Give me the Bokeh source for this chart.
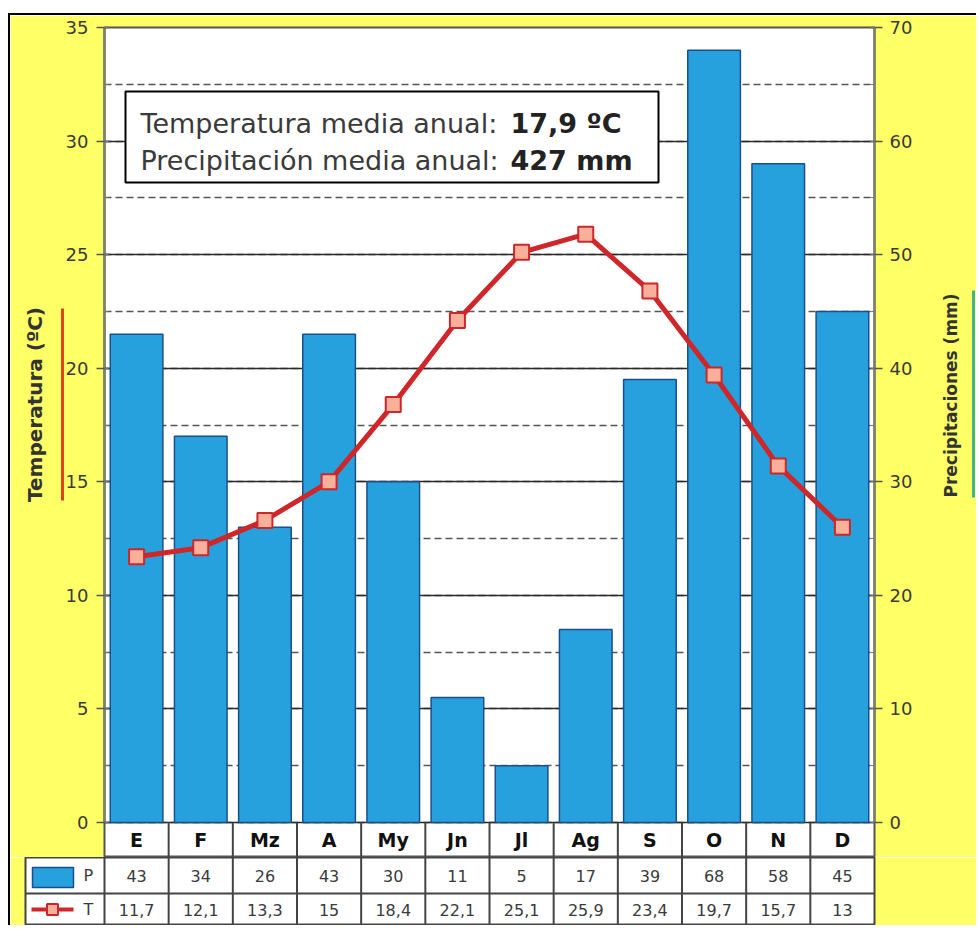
import math
from bokeh.plotting import figure
from bokeh.layouts import column
from bokeh.models import (Range1d, LinearAxis, SingleIntervalTicker, FixedTicker,
                          Grid, ColumnDataSource)
from bokeh.core.properties import value
from bokeh.embed import file_html
from bokeh.resources import INLINE

# ---------------- data ----------------
months = ["E", "F", "Mz", "A", "My", "Jn", "Jl", "Ag", "S", "O", "N", "D"]
precip = [43, 34, 26, 43, 30, 11, 5, 17, 39, 68, 58, 45]
temp = [11.7, 12.1, 13.3, 15, 18.4, 22.1, 25.1, 25.9, 23.4, 19.7, 15.7, 13]
temp_axis_max = 35
precip_axis_max = 70
summary_labels = ["Temperatura media anual:", "Precipitación media anual:"]
summary_values = ["17,9 ºC", "427 mm"]
row_names = ["P", "T"]
temp_title = "Temperatura (ºC)"
precip_title = "Precipitaciones (mm)"

# ---------------- layout constants (page pixels) ----------------
FONT = "DejaVu Sans"
YELLOW = "#FFFF66"
PAGE_X0, PAGE_Y0 = 10, 15
W = 966
FR_L, FR_R = 104, 874
FR_T, ZERO_Y, FR_B = 27, 822, 857
TB_L, TB_MID, TB_B = 25, 893, 925

COL = (FR_R - FR_L) / len(months)
PX_T = (ZERO_Y - FR_T) / temp_axis_max
PX_P = (ZERO_Y - FR_T) / precip_axis_max
ROW_T = TB_B - TB_MID
ymin_t = -(FR_B - ZERO_Y) / PX_T
ymin_p = -(FR_B - ZERO_Y) / PX_P


def dx(px):
    return (px - FR_L) / COL


def dy(py):
    return (ZERO_Y - py) / PX_T


def ty(py):
    return (TB_B - py) / ROW_T


def fmt(v):
    return f"{v:g}".replace(".", ",")


xs = [i + 0.5 for i in range(len(months))]
src = ColumnDataSource(dict(x=xs, month=months, precip=precip, temp=temp,
                            ptxt=[fmt(v) for v in precip], ttxt=[fmt(v) for v in temp]))

BAR_FILL = "#27A1DD"
BAR_LINE = "#1B4E8A"
RED = "#CE2629"
MARK_FILL = "#F9B09A"


def no_align(fig):
    try:
        fig.frame_align = False
    except Exception:
        pass


# ---------------- main chart ----------------
p = figure(width=W, height=FR_B - PAGE_Y0,
           x_range=Range1d(0, len(months)), y_range=Range1d(ymin_t, temp_axis_max),
           x_axis_type=None, y_axis_type=None,
           output_backend="svg", toolbar_location=None,
           min_border_left=FR_L - PAGE_X0, min_border_right=W - (FR_R - PAGE_X0),
           min_border_top=FR_T - PAGE_Y0, min_border_bottom=0,
           background_fill_color="white", border_fill_color=YELLOW,
           outline_line_color="#555555", outline_line_width=2)
no_align(p)
# precipitation scale and a page-pixel scale (for placing the axis titles)
p.extra_y_ranges = {"pp": Range1d(ymin_p, precip_axis_max),
                    "px": Range1d(-FR_B, -FR_T)}

tick_t = SingleIntervalTicker(interval=5, num_minor_ticks=2)
tick_p = SingleIntervalTicker(interval=10, num_minor_ticks=2)


def style_axis(ax, size="18px"):
    ax.axis_line_color = "#80806E"
    ax.axis_line_width = 2.5
    ax.major_tick_line_color = "#555555"
    ax.major_tick_line_width = 1.5
    ax.minor_tick_line_color = "#777777"
    ax.major_tick_out = 8
    ax.major_tick_in = 4
    ax.minor_tick_out = 0
    ax.minor_tick_in = 4
    ax.major_label_text_font = FONT
    ax.major_label_text_font_size = size
    ax.major_label_text_color = "#3a3a3a"


def bare(ax):
    ax.major_tick_out = 0
    ax.major_tick_in = 0
    ax.minor_tick_out = 0
    ax.minor_tick_in = 0
    ax.major_tick_line_color = None
    ax.minor_tick_line_color = None


ax_l = LinearAxis(ticker=tick_t, bounds=(0, temp_axis_max), major_label_standoff=8)
style_axis(ax_l)
p.add_layout(ax_l, "left")

T_MID = -404
red_ax = LinearAxis(y_range_name="px", ticker=FixedTicker(ticks=[T_MID]),
                    bounds=(-500, -308), axis_line_color="#E0461E", axis_line_width=3,
                    major_label_overrides={T_MID: temp_title},
                    major_label_orientation="vertical", major_label_standoff=16,
                    major_label_text_font=FONT, major_label_text_font_size="20px",
                    major_label_text_font_style="bold", major_label_text_color="#333333")
bare(red_ax)
p.add_layout(red_ax, "left")

ax_r = LinearAxis(y_range_name="pp", ticker=tick_p, bounds=(0, precip_axis_max),
                  major_label_standoff=7)
style_axis(ax_r)
p.add_layout(ax_r, "right")

P_END = -497
lab_ax = LinearAxis(y_range_name="px", ticker=FixedTicker(ticks=[P_END]),
                    bounds=(-497, -290), axis_line_color=None,
                    major_label_overrides={P_END: precip_title},
                    major_label_orientation=math.pi / 2, major_label_standoff=35,
                    major_label_text_font=FONT, major_label_text_font_size="17px",
                    major_label_text_font_style="bold", major_label_text_color="#333333")
bare(lab_ax)
p.add_layout(lab_ax, "right")

teal_ax = LinearAxis(y_range_name="px", ticker=FixedTicker(ticks=[]),
                     bounds=(-497, -290), axis_line_color="#40B0A0", axis_line_width=3)
bare(teal_ax)
p.add_layout(teal_ax, "right")

grid = Grid(dimension=1, ticker=tick_t, bounds=(0, temp_axis_max),
            grid_line_color="#2a2a2a", grid_line_width=1.5,
            minor_grid_line_color="#555555", minor_grid_line_dash="7 4",
            minor_grid_line_width=1.5)
p.add_layout(grid)

# bars (precipitation)
p.vbar(x="x", top="precip", bottom=0, width=0.82, source=src, y_range_name="pp",
       fill_color=BAR_FILL, line_color=BAR_LINE, line_width=1.5)

# month row separators and labels
seps = list(range(1, len(months)))
p.segment(x0=seps, x1=seps, y0=[0] * len(seps), y1=[ymin_t] * len(seps),
          line_color="#444444", line_width=2)
p.text(x="x", y=ymin_t / 2, text="month", source=src, text_font=value(FONT),
       text_font_size="19px", text_font_style="bold", text_color="#111111",
       text_align="center", text_baseline="middle")

# summary box
p.quad(left=[dx(125)], right=[dx(658)], top=[dy(91)], bottom=[dy(182)],
       fill_color="white", line_color="black", line_width=2)
p.text(x=[dx(140)] * 2, y=[dy(123), dy(160)], text=summary_labels,
       text_font=value(FONT), text_font_size="27px", text_color="#3a3a3a",
       text_align="left", text_baseline="alphabetic")
p.text(x=[dx(510)] * 2, y=[dy(123), dy(160)], text=summary_values,
       text_font=value(FONT), text_font_size="27px", text_font_style="bold",
       text_color="#222222", text_align="left", text_baseline="alphabetic")

# temperature line
p.line(x="x", y="temp", source=src, line_color=RED, line_width=5)
p.scatter(x="x", y="temp", source=src, marker="square", size=15,
          fill_color=MARK_FILL, line_color=RED, line_width=2)

# ---------------- data table ----------------
LEG_W = (FR_L - TB_L) / COL
t = figure(width=W, height=TB_B - FR_B,
           x_range=Range1d(-LEG_W, len(months)), y_range=Range1d(0, ty(FR_B)),
           x_axis_type=None, y_axis_type=None,
           output_backend="svg", toolbar_location=None,
           min_border_left=TB_L - PAGE_X0, min_border_right=W - (FR_R - PAGE_X0),
           min_border_top=0, min_border_bottom=0,
           background_fill_color="white", border_fill_color=YELLOW,
           outline_line_color="#444444", outline_line_width=2)
no_align(t)

vs = list(range(0, len(months)))
t.segment(x0=vs, x1=vs, y0=[0] * len(vs), y1=[ty(FR_B)] * len(vs),
          line_color="#444444", line_width=2)
t.segment(x0=[-LEG_W], x1=[len(months)], y0=[1], y1=[1],
          line_color="#444444", line_width=2)

yP = ty((FR_B + TB_MID) / 2)
yT = ty((TB_MID + TB_B) / 2)
t.text(x="x", y=yP, text="ptxt", source=src, text_font=value(FONT),
       text_font_size="16px", text_color="#3a3a3a",
       text_align="center", text_baseline="middle")
t.text(x="x", y=yT, text="ttxt", source=src, text_font=value(FONT),
       text_font_size="16px", text_color="#3a3a3a",
       text_align="center", text_baseline="middle")

# legend column
t.quad(left=[dx(32)], right=[dx(73)], top=[ty(867)], bottom=[ty(887)],
       fill_color=BAR_FILL, line_color=BAR_LINE, line_width=1.5)
t.segment(x0=[dx(31)], x1=[dx(73)], y0=[yT], y1=[yT], line_color=RED, line_width=4)
t.scatter(x=[dx(52)], y=[yT], marker="square", size=11,
          fill_color=MARK_FILL, line_color=RED, line_width=2)
t.text(x=[dx(83)] * 2, y=[yP, yT], text=row_names, text_font=value(FONT),
       text_font_size="16px", text_color="#3a3a3a",
       text_align="left", text_baseline="middle")

layout = column(p, t, spacing=0,
                styles={"margin-left": "8px", "margin-top": "13px",
                        "border-left": "2px solid black",
                        "border-top": "2px solid black"})

open("out.html", "w").write(file_html(layout, INLINE))
